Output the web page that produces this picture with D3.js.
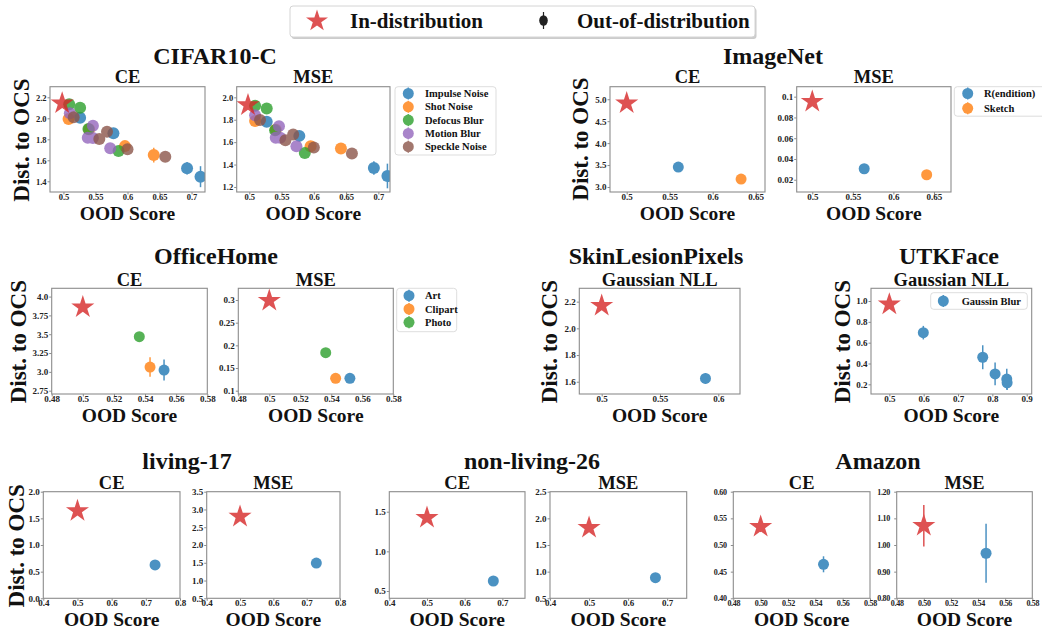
<!DOCTYPE html>
<html>
<head>
<meta charset="utf-8">
<script src="https://cdn.jsdelivr.net/npm/d3@7"></script>
<style>
  html, body { margin: 0; padding: 0; background: #fff; }
  svg { display: block; }
</style>
</head>
<body>
<svg id="fig" width="1042" height="628"></svg>
<script>
// ---------------- data ----------------
// CIFAR10-C: five corruption types, distance to OCS vs OOD score
const cifarCorruptions = ["Impulse Noise", "Shot Noise", "Defocus Blur", "Motion Blur", "Speckle Noise"];
const cifarCeScore = [[0.526, 0.578, 0.693, 0.714], [0.508, 0.540, 0.596, 0.641], [0.509, 0.526, 0.539, 0.586], [0.510, 0.546, 0.538, 0.546, 0.573], [0.516, 0.556, 0.568, 0.600, 0.659]];
const cifarCeDist  = [[2.006, 1.857, 1.524, 1.444], [1.993, 1.895, 1.735, 1.650], [2.133, 2.101, 1.898, 1.689], [2.047, 1.930, 1.815, 1.812, 1.714], [2.010, 1.803, 1.872, 1.705, 1.634]];
const cifarCeErr   = [[0.02, 0.02, 0.06, 0.10], [0.02, 0.02, 0.03, 0.07], [0.02, 0.02, 0.02, 0.02], [0.02, 0.02, 0.02, 0.02, 0.02], [0.02, 0.02, 0.02, 0.03, 0.05]];
const cifarCeInDist = [0.498, 2.143, 0.02];
const cifarMseScore = [[0.527, 0.5775, 0.693, 0.714], [0.509, 0.541, 0.595, 0.642], [0.509, 0.527, 0.540, 0.586], [0.509, 0.546, 0.541, 0.548, 0.573], [0.5166, 0.556, 0.568, 0.600, 0.659]];
const cifarMseDist  = [[1.782, 1.656, 1.370, 1.298], [1.788, 1.710, 1.564, 1.543], [1.925, 1.900, 1.707, 1.504], [1.840, 1.743, 1.640, 1.640, 1.564], [1.797, 1.618, 1.669, 1.552, 1.499]];
const cifarMseErr   = [[0.02, 0.03, 0.06, 0.11], [0.02, 0.02, 0.03, 0.04], [0.02, 0.02, 0.02, 0.02], [0.02, 0.02, 0.02, 0.02, 0.02], [0.02, 0.02, 0.03, 0.03, 0.03]];
const cifarMseInDist = [0.498, 1.931, 0.02];
const cifarXTicks = ["0.5", "0.55", "0.6", "0.65", "0.7"];
const cifarCeYTicks = ["1.4", "1.6", "1.8", "2.0", "2.2"];
const cifarMseYTicks = ["1.2", "1.4", "1.6", "1.8", "2.0"];

// ImageNet: rendition and sketch shifts
const imagenetShifts = ["R(endition)", "Sketch"];
const imagenetCeScore = [[0.560], [0.633]];
const imagenetCeDist  = [[3.455], [3.180]];
const imagenetCeErr   = [[0.03], [0.03]];
const imagenetCeInDist = [0.5, 4.91, 0.03];
const imagenetMseScore = [[0.564], [0.641]];
const imagenetMseDist  = [[0.0306], [0.0248]];
const imagenetMseErr   = [[0.001], [0.001]];
const imagenetMseInDist = [0.5, 0.0952, 0.001];
const imagenetXTicks = ["0.5", "0.55", "0.6", "0.65"];
const imagenetCeYTicks = ["3.0", "3.5", "4.0", "4.5", "5.0"];
const imagenetMseYTicks = ["0.02", "0.04", "0.06", "0.08", "0.1"];

// OfficeHome: Art, Clipart, Photo domains
const officeDomains = ["Art", "Clipart", "Photo"];
const officeCeScore = [[0.5522], [0.5432], [0.5363]];
const officeCeDist  = [[3.024], [3.064], [3.468]];
const officeCeErr   = [[0.14], [0.13], [0.03]];
const officeCeInDist = [0.5, 3.859, 0.02];
const officeMseScore = [[0.552], [0.5428], [0.5364]];
const officeMseDist  = [[0.1272], [0.1272], [0.1837]];
const officeMseErr   = [[0.004], [0.004], [0.004]];
const officeMseInDist = [0.5, 0.2985, 0.004];
const officeXTicks = ["0.48", "0.5", "0.52", "0.54", "0.56", "0.58"];
const officeCeYTicks = ["2.75", "3.0", "3.25", "3.5", "3.75", "4.0"];
const officeMseYTicks = ["0.1", "0.15", "0.2", "0.25", "0.3"];

// SkinLesionPixels (Gaussian NLL)
const skinScore = [[0.589]];
const skinDist  = [[1.625]];
const skinErr   = [[0.04]];
const skinInDist = [0.5, 2.17, 0.03];
const skinXTicks = ["0.5", "0.55", "0.6"];
const skinYTicks = ["1.6", "1.8", "2.0", "2.2"];

// UTKFace (Gaussian NLL), blur severities
const utkShifts = ["Gaussin Blur"];
const utkScore = [[0.599, 0.772, 0.808, 0.842, 0.843]];
const utkDist  = [[0.696, 0.460, 0.300, 0.250, 0.215]];
const utkErr   = [[0.065, 0.115, 0.11, 0.10, 0.07]];
const utkInDist = [0.5, 0.968, 0.03];
const utkXTicks = ["0.5", "0.6", "0.7", "0.8", "0.9"];
const utkYTicks = ["0.2", "0.4", "0.6", "0.8", "1.0"];

// living-17
const livingCeScore = [[0.727]];
const livingCeDist  = [[0.626]];
const livingCeErr   = [[0.01]];
const livingCeInDist = [0.5, 1.64, 0.03];
const livingMseScore = [[0.729]];
const livingMseDist  = [[1.49]];
const livingMseErr   = [[0.01]];
const livingMseInDist = [0.5, 2.80, 0.04];
const livingXTicks = ["0.4", "0.5", "0.6", "0.7", "0.8"];
const livingCeYTicks = ["0.0", "0.5", "1.0", "1.5", "2.0"];
const livingMseYTicks = ["0.5", "1.0", "1.5", "2.0", "2.5", "3.0", "3.5"];

// non-living-26
const nonlivingCeScore = [[0.676]];
const nonlivingCeDist  = [[0.626]];
const nonlivingCeErr   = [[0.01]];
const nonlivingCeInDist = [0.5, 1.424, 0.03];
const nonlivingMseScore = [[0.670]];
const nonlivingMseDist  = [[0.886]];
const nonlivingMseErr   = [[0.01]];
const nonlivingMseInDist = [0.5, 1.824, 0.04];
const nonlivingXTicks = ["0.4", "0.5", "0.6", "0.7"];
const nonlivingCeYTicks = ["0.5", "1.0", "1.5"];
const nonlivingMseYTicks = ["0.5", "1.0", "1.5", "2.0", "2.5"];

// Amazon
const amazonCeScore = [[0.546]];
const amazonCeDist  = [[0.4638]];
const amazonCeErr   = [[0.015]];
const amazonCeInDist = [0.5, 0.5343, 0.01];
const amazonMseScore = [[0.5459]];
const amazonMseDist  = [[0.969]];
const amazonMseErr   = [[0.111]];
const amazonMseInDist = [0.5, 1.0724, 0.078];
const amazonXTicks = ["0.48", "0.50", "0.52", "0.54", "0.56", "0.58"];
const amazonCeYTicks = ["0.40", "0.45", "0.50", "0.55", "0.60"];
const amazonMseYTicks = ["0.80", "0.90", "1.00", "1.10", "1.20"];

// ---------------- drawing ----------------
const FONT = "'Liberation Serif', 'Times New Roman', serif";
const SPINE = "#8c8c8c";
const tab = d3.schemeCategory10;
const oodColors = [tab[0], tab[1], tab[2], tab[4], tab[5]];
const starColor = tab[3];
const svg = d3.select("#fig");
let clipId = 0;

const GROUP_SIZE = 24, SUB_SIZE = 18.5, XLABEL_SIZE = 19.5, YLABEL_SIZE = 23;

function text(x, y, str, size, anchor = "middle", rotate = false) {
  const t = svg.append("text")
    .attr("font-family", FONT).attr("font-weight", "bold")
    .attr("font-size", size).attr("fill", "#111")
    .attr("text-anchor", anchor).text(str);
  if (rotate) t.attr("transform", `translate(${x},${y}) rotate(-90)`);
  else t.attr("x", x).attr("y", y);
  return t;
}

function makeSeries(scores, dists, errs) {
  return scores.map((s, k) => s.map((v, i) => ({ x: v, y: dists[k][i], e: errs[k][i], k })));
}

function drawPanel(cfg) {
  const [l, t, r, b] = cfg.box;
  const fs = cfg.tickFont || 9;
  const x = d3.scaleLinear().domain(cfg.xDomain).range([l, r]);
  const y = d3.scaleLinear().domain(cfg.yDomain).range([b, t]);
  const g = svg.append("g");

  const xa = g.append("g").attr("transform", `translate(0,${b})`)
    .call(d3.axisBottom(x).tickValues(cfg.xTicks.map(Number))
      .tickFormat((d, i) => cfg.xTicks[i]).tickSizeInner(2.5).tickSizeOuter(0).tickPadding(1));
  const ya = g.append("g").attr("transform", `translate(${l},0)`)
    .call(d3.axisLeft(y).tickValues(cfg.yTicks.map(Number))
      .tickFormat((d, i) => cfg.yTicks[i]).tickSizeInner(2.5).tickSizeOuter(0)
      .tickPadding(cfg.yPad != null ? cfg.yPad : 1));
  [xa, ya].forEach(a => {
    a.select(".domain").remove();
    a.selectAll("line").attr("stroke", SPINE);
    a.selectAll("text").attr("font-family", FONT).attr("font-weight", "bold")
      .attr("font-size", fs).attr("fill", "#222")
      .attr("letter-spacing", cfg.tickSpacing || 0);
  });
  xa.selectAll("text").attr("y", 8).attr("dy", 0);

  const id = "clip" + (clipId++);
  svg.append("clipPath").attr("id", id)
    .append("rect").attr("x", l).attr("y", t).attr("width", r - l).attr("height", b - t);
  const plot = g.append("g").attr("clip-path", `url(#${id})`);

  const radius = cfg.radius || 5.5;
  cfg.series.forEach((pts, k) => {
    const col = (cfg.colors || oodColors)[k];
    const sg = plot.append("g").attr("opacity", 0.8);
    sg.selectAll("line").data(pts).join("line")
      .attr("x1", d => x(d.x)).attr("x2", d => x(d.x))
      .attr("y1", d => y(d.y - d.e)).attr("y2", d => y(d.y + d.e))
      .attr("stroke", col).attr("stroke-width", 1.5);
    sg.selectAll("circle").data(pts).join("circle")
      .attr("cx", d => x(d.x)).attr("cy", d => y(d.y)).attr("r", radius)
      .attr("fill", col);
  });

  // in-distribution star with its error bar
  const [sx, sy, se] = cfg.inDist;
  const st = plot.append("g").attr("opacity", 0.8);
  st.append("line").attr("x1", x(sx)).attr("x2", x(sx))
    .attr("y1", y(sy - se)).attr("y2", y(sy + se))
    .attr("stroke", starColor).attr("stroke-width", 1.5);
  st.append("path").attr("d", d3.symbol(d3.symbolStar, 165)())
    .attr("transform", `translate(${x(sx)},${y(sy)})`).attr("fill", starColor);

  g.append("rect").attr("x", l).attr("y", t).attr("width", r - l).attr("height", b - t)
    .attr("fill", "none").attr("stroke", SPINE).attr("stroke-width", 1.1);

  if (cfg.title) text((l + r) / 2, cfg.titleY, cfg.title, SUB_SIZE);
  if (cfg.xlabelY) text((l + r) / 2, cfg.xlabelY, "OOD Score", XLABEL_SIZE);
}

function drawLegend(box, names, colors, cx, tx, rows) {
  const [l, t, w, h] = box;
  svg.append("rect").attr("x", l).attr("y", t).attr("width", w).attr("height", h)
    .attr("rx", 3).attr("fill", "#fff").attr("stroke", "#d4d4d4").attr("stroke-width", 0.8);
  names.forEach((n, i) => {
    const g = svg.append("g").attr("opacity", 0.8);
    g.append("line").attr("x1", cx).attr("x2", cx).attr("y1", rows[i] - 6).attr("y2", rows[i] + 6)
      .attr("stroke", colors[i]).attr("stroke-width", 1.5);
    g.append("circle").attr("cx", cx).attr("cy", rows[i]).attr("r", 5.5).attr("fill", colors[i]);
    text(tx, rows[i] + 3.6, n, 10.5, "start");
  });
}

// ---- top legend ----
svg.append("rect").attr("x", 291.5).attr("y", 8).attr("width", 465).attr("height", 31)
  .attr("rx", 3).attr("fill", "#999").attr("opacity", 0.5);
svg.append("rect").attr("x", 290).attr("y", 6).attr("width", 465).attr("height", 31)
  .attr("rx", 3).attr("fill", "#fff").attr("stroke", "#d4d4d4");
svg.append("path").attr("d", d3.symbol(d3.symbolStar, 150)())
  .attr("transform", "translate(317,21)").attr("fill", starColor).attr("opacity", 0.8);
text(350, 27.5, "In-distribution", 21, "start");
svg.append("line").attr("x1", 543.5).attr("x2", 543.5).attr("y1", 12).attr("y2", 29)
  .attr("stroke", "#222").attr("stroke-width", 1.2);
svg.append("ellipse").attr("cx", 543.5).attr("cy", 20.5).attr("rx", 4.3).attr("ry", 5.2).attr("fill", "#222");
text(577, 27.5, "Out-of-distribution", 21, "start");

// ---- row 1 ----
const R1 = { t: 86.7, b: 192, titleY: 83, xlabelY: 219.5, groupY: 64 };
drawPanel({ box: [50, R1.t, 205, R1.b], xDomain: [0.479, 0.721], yDomain: [1.298, 2.301],
  xTicks: cifarXTicks, yTicks: cifarCeYTicks, radius: 6, tickFont: 8.5,
  series: makeSeries(cifarCeScore, cifarCeDist, cifarCeErr), inDist: cifarCeInDist,
  title: "CE", titleY: R1.titleY, xlabelY: R1.xlabelY });
drawPanel({ box: [236.7, R1.t, 390, R1.b], xDomain: [0.4805, 0.718], yDomain: [1.155, 2.095],
  xTicks: cifarXTicks, yTicks: cifarMseYTicks, radius: 6, tickFont: 8.5,
  series: makeSeries(cifarMseScore, cifarMseDist, cifarMseErr), inDist: cifarMseInDist,
  title: "MSE", titleY: R1.titleY, xlabelY: R1.xlabelY });
drawLegend([395, 86.7, 101, 68.3], cifarCorruptions, oodColors, 408.3, 425,
  [93.5, 106.8, 120.1, 133.4, 146.7]);
text(215, R1.groupY, "CIFAR10-C", GROUP_SIZE);
text(28.5, 140, "Dist. to OCS", YLABEL_SIZE, "middle", true);

drawPanel({ box: [610, R1.t, 765, R1.b], xDomain: [0.4806, 0.6608], yDomain: [2.886, 5.286],
  xTicks: imagenetXTicks, yTicks: imagenetCeYTicks,
  series: makeSeries(imagenetCeScore, imagenetCeDist, imagenetCeErr), inDist: imagenetCeInDist,
  title: "CE", titleY: R1.titleY, xlabelY: R1.xlabelY });
drawPanel({ box: [796.7, R1.t, 951, R1.b], xDomain: [0.4808, 0.671], yDomain: [0.0082, 0.1096],
  xTicks: imagenetXTicks, yTicks: imagenetMseYTicks,
  series: makeSeries(imagenetMseScore, imagenetMseDist, imagenetMseErr), inDist: imagenetMseInDist,
  title: "MSE", titleY: R1.titleY, xlabelY: R1.xlabelY });
drawLegend([954.3, 86.7, 92, 29.5], imagenetShifts, oodColors, 967.7, 984, [93.5, 108.3]);
text(773, R1.groupY, "ImageNet", GROUP_SIZE);
text(588, 139, "Dist. to OCS", YLABEL_SIZE, "middle", true);

// ---- row 2 ----
const R2 = { t: 288.3, b: 394, titleY: 285.5, xlabelY: 421.5, groupY: 263.5 };
drawPanel({ box: [51.7, R2.t, 207.3, R2.b], xDomain: [0.48, 0.58], yDomain: [2.706, 4.11],
  xTicks: officeXTicks, yTicks: officeCeYTicks,
  series: makeSeries(officeCeScore, officeCeDist, officeCeErr), inDist: officeCeInDist,
  title: "CE", titleY: R2.titleY, xlabelY: R2.xlabelY });
drawPanel({ box: [238.3, R2.t, 393.3, R2.b], xDomain: [0.48, 0.58], yDomain: [0.0927, 0.3258],
  xTicks: officeXTicks, yTicks: officeMseYTicks,
  series: makeSeries(officeMseScore, officeMseDist, officeMseErr), inDist: officeMseInDist,
  title: "MSE", titleY: R2.titleY, xlabelY: R2.xlabelY });
drawLegend([396.7, 288.3, 60, 43.4], officeDomains, oodColors, 409, 425, [295.7, 309, 322.3]);
text(216, R2.groupY, "OfficeHome", GROUP_SIZE);
text(25.5, 341.7, "Dist. to OCS", YLABEL_SIZE, "middle", true);

drawPanel({ box: [579.3, R2.t, 740, R2.b], xDomain: [0.4808, 0.6186], yDomain: [1.508, 2.30],
  xTicks: skinXTicks, yTicks: skinYTicks,
  series: makeSeries(skinScore, skinDist, skinErr), inDist: skinInDist,
  title: "Gaussian NLL", titleY: R2.titleY, xlabelY: R2.xlabelY });
text(656, R2.groupY, "SkinLesionPixels", GROUP_SIZE);
text(557, 341.7, "Dist. to OCS", YLABEL_SIZE, "middle", true);

drawPanel({ box: [871, R2.t, 1031.7, R2.b], xDomain: [0.4466, 0.9146], yDomain: [0.107, 1.122],
  xTicks: utkXTicks, yTicks: utkYTicks,
  series: makeSeries(utkScore, utkDist, utkErr), inDist: utkInDist,
  title: "Gaussian NLL", titleY: R2.titleY, xlabelY: R2.xlabelY });
drawLegend([930.7, 292.7, 96.6, 16.6], utkShifts, oodColors, 943.3, 961.7, [301]);
text(949, R2.groupY, "UTKFace", GROUP_SIZE);
text(850, 341.7, "Dist. to OCS", YLABEL_SIZE, "middle", true);

// ---- row 3 ----
const R3 = { t: 491.7, b: 598.3, titleY: 488.5, xlabelY: 625.5, groupY: 469 };
drawPanel({ box: [43.3, R3.t, 180, R3.b], xDomain: [0.4, 0.8], yDomain: [0, 2],
  xTicks: livingXTicks, yTicks: livingCeYTicks,
  series: makeSeries(livingCeScore, livingCeDist, livingCeErr), inDist: livingCeInDist,
  title: "CE", titleY: R3.titleY, xlabelY: R3.xlabelY });
drawPanel({ box: [206.7, R3.t, 340, R3.b], xDomain: [0.4, 0.8], yDomain: [0.5, 3.5],
  xTicks: livingXTicks, yTicks: livingMseYTicks,
  series: makeSeries(livingMseScore, livingMseDist, livingMseErr), inDist: livingMseInDist,
  title: "MSE", titleY: R3.titleY, xlabelY: R3.xlabelY });
text(187, R3.groupY, "living-17", GROUP_SIZE);
text(23.5, 545.8, "Dist. to OCS", YLABEL_SIZE, "middle", true);

drawPanel({ box: [389.3, R3.t, 525, R3.b], xDomain: [0.4, 0.76], yDomain: [0.408, 1.752],
  xTicks: nonlivingXTicks, yTicks: nonlivingCeYTicks,
  series: makeSeries(nonlivingCeScore, nonlivingCeDist, nonlivingCeErr), inDist: nonlivingCeInDist,
  title: "CE", titleY: R3.titleY, xlabelY: R3.xlabelY });
drawPanel({ box: [550, R3.t, 686.7, R3.b], xDomain: [0.4, 0.75], yDomain: [0.5, 2.5],
  xTicks: nonlivingXTicks, yTicks: nonlivingMseYTicks,
  series: makeSeries(nonlivingMseScore, nonlivingMseDist, nonlivingMseErr), inDist: nonlivingMseInDist,
  title: "MSE", titleY: R3.titleY, xlabelY: R3.xlabelY });
text(532, R3.groupY, "non-living-26", GROUP_SIZE);

drawPanel({ box: [733.3, R3.t, 870, R3.b], xDomain: [0.48, 0.58], yDomain: [0.4, 0.6],
  xTicks: amazonXTicks, yTicks: amazonCeYTicks, tickFont: 8, tickSpacing: -0.3, yPad: 4.2,
  series: makeSeries(amazonCeScore, amazonCeDist, amazonCeErr), inDist: amazonCeInDist,
  title: "CE", titleY: R3.titleY, xlabelY: R3.xlabelY });
drawPanel({ box: [896.7, R3.t, 1032.3, R3.b], xDomain: [0.48, 0.58], yDomain: [0.8, 1.2],
  xTicks: amazonXTicks, yTicks: amazonMseYTicks, tickFont: 8, tickSpacing: -0.3, yPad: 4.2,
  series: makeSeries(amazonMseScore, amazonMseDist, amazonMseErr), inDist: amazonMseInDist,
  title: "MSE", titleY: R3.titleY, xlabelY: R3.xlabelY });
text(878, R3.groupY, "Amazon", GROUP_SIZE);
</script>
</body>
</html>
